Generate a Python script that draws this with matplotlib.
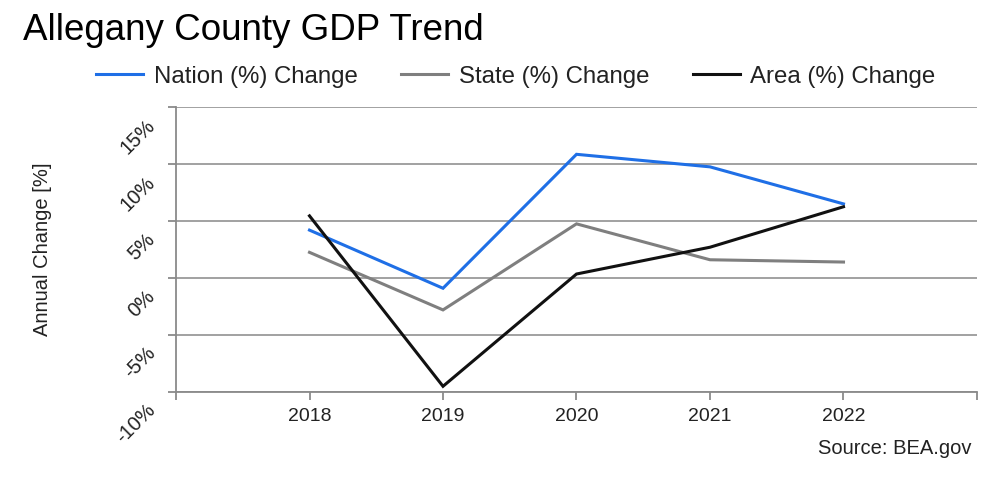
import matplotlib
matplotlib.use("Agg")
import matplotlib.pyplot as plt
import matplotlib.transforms as mtransforms

plt.rcParams['font.family'] = ['Liberation Sans', 'DejaVu Sans']

years = ["2018", "2019", "2020", "2021", "2022"]
nation = [4.2, -0.9, 10.85, 9.75, 6.5]
state = [2.25, -2.8, 4.75, 1.6, 1.4]
area = [5.45, -9.5, 0.35, 2.7, 6.25]
series_names = ["Nation (%) Change", "State (%) Change", "Area (%) Change"]
yticks = [-10, -5, 0, 5, 10, 15]
ytick_labels = ["-10%", "-5%", "0%", "5%", "10%", "15%"]

fig = plt.figure(figsize=(9.84, 4.81), dpi=100)
ax = fig.add_axes([176/984, 1-393/481, (977-176)/984, (393-108)/481])

x = list(range(1, len(years) + 1))
colors = ["#1f6fe6", "#7f7f7f", "#111111"]
for vals, name, c in zip([nation, state, area], series_names, colors):
    ax.plot(x, vals, color=c, lw=2.2, label=name, solid_joinstyle='miter')

ax.set_xlim(0, len(years) + 1)
ax.set_ylim(-10, 15)
ax.set_xticks(range(0, len(years) + 2))
ax.set_xticklabels([""] + years + [""], fontsize=14, color="#222222")
ax.set_yticks(yticks)
ax.set_yticklabels([""] * len(yticks))
off = mtransforms.ScaledTranslation(-17/100, -7.5/100, fig.dpi_scale_trans)
for v, lab in zip(yticks, ytick_labels):
    ax.text(0, v, lab, transform=ax.get_yaxis_transform() + off, rotation=45,
            ha='right', va='top', fontsize=14.5, color="#222222", clip_on=False)

ax.grid(axis='y', color="#9a9a9a", lw=1.3)
ax.set_axisbelow(True)
for s in ["top", "right"]:
    ax.spines[s].set_visible(False)
for s in ["left", "bottom"]:
    ax.spines[s].set_color("#8a8a8a")
    ax.spines[s].set_linewidth(1.3)
ax.tick_params(axis='both', color="#8a8a8a", length=6, width=1.3)
ax.tick_params(axis='x', pad=5)

ax.set_ylabel("Annual Change [%]", fontsize=14.5, color="#222222")
ax.yaxis.set_label_coords(43/984, 1-249/481, transform=fig.transFigure)
ax.yaxis.label.set_va('center')

fig.text(23/984, 1-30/481, "Allegany County GDP Trend", fontsize=26.5, va='center', ha='left', color="#000000")
fig.text(972/984, 1-449/481, "Source: BEA.gov", fontsize=14.5, va='center', ha='right', color="#222222")

fig.legend(loc='center', bbox_to_anchor=(516/984, 1-77/481), ncol=3, frameon=False,
           fontsize=17.3, handlelength=1.95, handletextpad=0.45, columnspacing=1.8,
           labelcolor="#222222")

fig.savefig("out.png", dpi=100)
